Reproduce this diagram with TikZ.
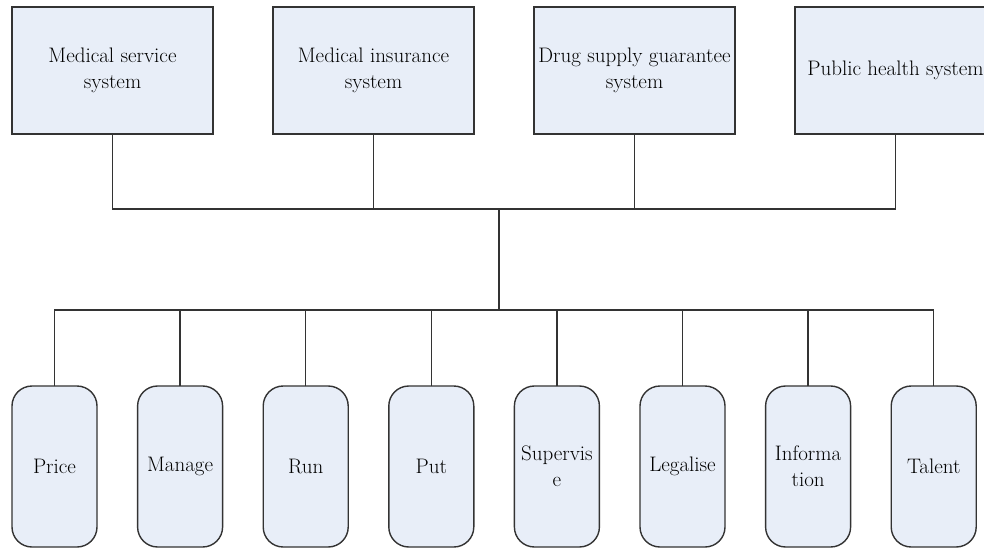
\documentclass[tikz,border=0pt]{standalone}
\usetikzlibrary{positioning}
\definecolor{mFill}{HTML}{E8EEF8}
\definecolor{mLine}{HTML}{333333}

\begin{document}
\begin{tikzpicture}[x=1pt, y=-1pt, line width=1.4pt, mLine,
      sysbox/.style={rectangle, draw=mLine, fill=mFill, minimum width=201pt, minimum height=127pt,
        inner sep=0pt, outer sep=0pt, align=center, text=black, font=\fontsize{21}{26}\selectfont},
      actbox/.style={rectangle, rounded corners=20pt, draw=mLine, fill=mFill, minimum width=85pt,
        minimum height=161pt, inner sep=0pt, outer sep=0pt, align=center, text=black,
        font=\fontsize{21}{26}\selectfont}]
    \useasboundingbox (0,0) rectangle (984,548);
    \clip (0,0) rectangle (984,548);
    % upper level: the four systems
    \foreach \i/\t in {1/{Medical service\\system}, 2/{Medical insurance\\system},
                       3/{Drug supply guarantee\\system}, 4/{Public health system}}
      \node[sysbox] (s\i) at (112.5 + 261*\i - 261, 70.5) {\t};
    % lower level: the eight measures
    \foreach \i/\t in {1/Price, 2/Manage, 3/Run, 4/Put, 5/{Supervis\\e}, 6/Legalise,
                       7/{Informa\\tion}, 8/Talent}
      \node[actbox] (a\i) at (54.5 + 125.6*\i - 125.6, 466.5) {\t};
    \coordinate (top) at (499, 209);
    \coordinate (bot) at (499, 310);
    \draw (s1.south) |- (top) -| (s4.south);
    \foreach \i in {2,3} \draw (s\i.south) -- (s\i.south |- top);
    \draw (top) -- (bot);
    \draw (a1.north) |- (bot) -| (a8.north);
    \foreach \i in {2,...,7} \draw (a\i.north) -- (a\i.north |- bot);
  \end{tikzpicture}
\end{document}
